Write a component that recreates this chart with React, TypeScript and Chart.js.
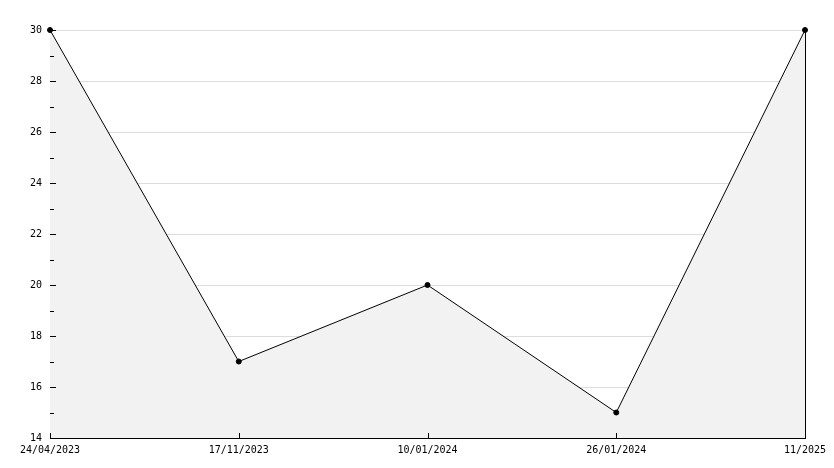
import React, { useEffect, useRef } from "react";
import { Chart, registerables } from "chart.js";

Chart.register(...registerables);

const categories = ["24/04/2023", "17/11/2023", "10/01/2024", "26/01/2024", "11/2025"];
const values = [30, 17, 20, 15, 30];
const yMin = 14;
const yMax = 30;

const FONT = { family: "'DejaVu Sans Mono', monospace", size: 10 };

const tickPlugin = {
  id: "innerTicks",
  afterDatasetsDraw(chart: any) {
    const { ctx, chartArea } = chart;
    const x = chart.scales.x;
    const y = chart.scales.y;
    ctx.save();
    ctx.strokeStyle = "#000";
    ctx.lineWidth = 1;
    ctx.beginPath();
    y.ticks.forEach((t: any, i: number) => {
      const py = Math.round(y.getPixelForTick(i)) + 0.5;
      const len = t.value % 2 === 0 ? 6 : 4;
      ctx.moveTo(chartArea.left, py);
      ctx.lineTo(chartArea.left + len, py);
    });
    categories.forEach((_, i) => {
      const px = Math.round(x.getPixelForValue(i)) + 0.5;
      ctx.moveTo(px, chartArea.bottom);
      ctx.lineTo(px, chartArea.bottom - 5);
    });
    const rx = Math.round(chartArea.right) + 0.5;
    ctx.moveTo(rx, chartArea.top);
    ctx.lineTo(rx, chartArea.bottom);
    ctx.stroke();
    ctx.restore();
  },
};

export default function App() {
  const ref = useRef<HTMLCanvasElement>(null);
  useEffect(() => {
    document.body.style.margin = "0";
    const chart = new Chart(ref.current!, {
      type: "line",
      data: {
        labels: categories,
        datasets: [
          {
            data: values,
            borderColor: "#000",
            borderWidth: 1,
            backgroundColor: "#f2f2f2",
            fill: "start",
            tension: 0,
            clip: false,
            pointRadius: 2.5,
            pointBackgroundColor: "#000",
            pointBorderColor: "#000",
            pointBorderWidth: 1,
          },
        ],
      },
      options: {
        animation: false,
        responsive: false,
        maintainAspectRatio: false,
        layout: { padding: { top: 30, right: 29, left: 0, bottom: 0 } },
        plugins: { legend: { display: false }, tooltip: { enabled: false } },
        scales: {
          x: {
            type: "category",
            offset: false,
            afterFit: (s: any) => {
              s.height = 30;
            },
            grid: { display: false, drawTicks: false },
            border: { display: true, color: "#000", width: 1 },
            ticks: {
              color: "#000",
              font: FONT,
              padding: 6,
              maxRotation: 0,
              autoSkip: false,
            },
          },
          y: {
            min: yMin,
            max: yMax,
            afterFit: (s: any) => {
              s.width = 50;
            },
            grid: {
              drawTicks: false,
              color: (c: any) => (c.tick && c.tick.value % 2 === 0 ? "#dddddd" : "rgba(0,0,0,0)"),
            },
            border: { display: true, color: "#000", width: 1 },
            ticks: {
              stepSize: 1,
              color: "#000",
              font: FONT,
              padding: 8,
              callback: (v: any) => (Number(v) % 2 === 0 ? String(v) : ""),
            },
          },
        },
      },
      plugins: [tickPlugin],
    });
    return () => chart.destroy();
  }, []);
  return (
    <div style={{ width: 834, height: 468 }}>
      <canvas ref={ref} width={834} height={468} style={{ display: "block" }} />
    </div>
  );
}
